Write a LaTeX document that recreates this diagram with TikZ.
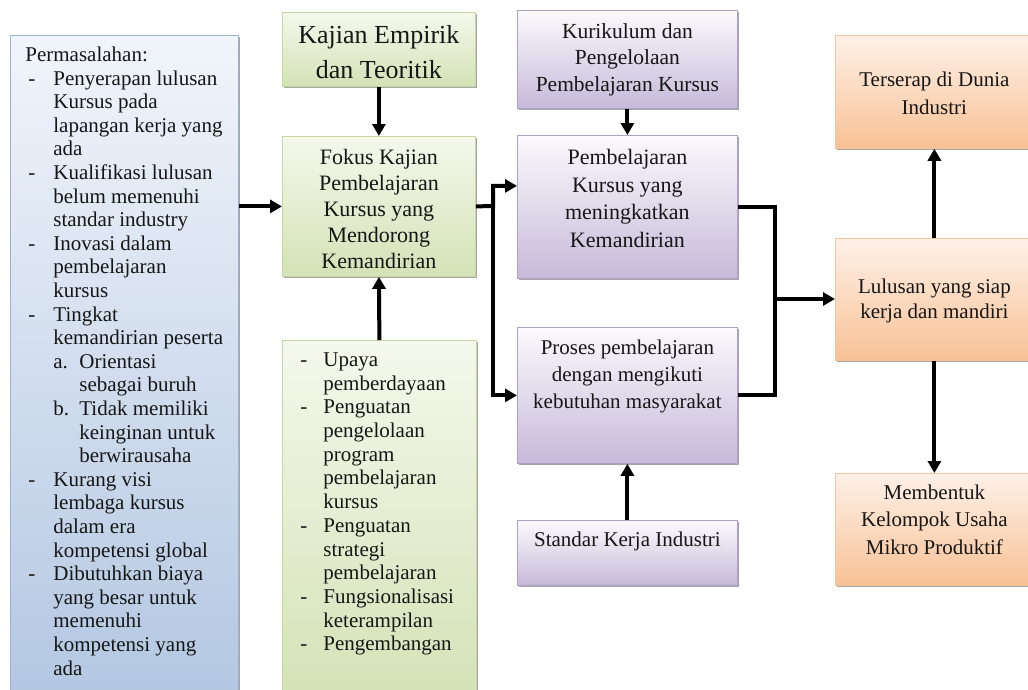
\documentclass[tikz,border=0pt]{standalone}
\usepackage{fontspec}
\setmainfont{Liberation Serif}
\usetikzlibrary{arrows.meta,shadows}
\definecolor{bluetop}{HTML}{F1F5FB}
\definecolor{bluebot}{HTML}{B3C7E2}
\definecolor{bluebd}{HTML}{9AB3D5}
\definecolor{greentop}{HTML}{F5F8EC}
\definecolor{greenbot}{HTML}{D4E2B6}
\definecolor{greenbd}{HTML}{C6D7A4}
\definecolor{purtop}{HTML}{FBFAFD}
\definecolor{purbot}{HTML}{C6BAD9}
\definecolor{purbd}{HTML}{B09FC6}
\definecolor{ortop}{HTML}{FEF1E8}
\definecolor{orbot}{HTML}{F8C195}
\definecolor{orbd}{HTML}{F3C49C}
\definecolor{txt}{HTML}{161616}
\newcommand\btxt[7]{\parbox[c][#2pt][t]{#1pt}{#6\fontsize{#3pt}{#4pt}\selectfont\vspace*{\dimexpr#5pt-\baselineskip*7/10\relax}\strut#7\par}}
\newcommand\dl[1]{\makebox[#1pt][l]{-}}
\tikzset{
  boxbase/.style={draw, inner sep=0pt, line width=0.8pt, anchor=north west, text=txt,
    drop shadow={shadow xshift=1.3pt, shadow yshift=-1.6pt, opacity=0.35, fill=black}},
  bluebx/.style={boxbase, draw=bluebd, top color=bluetop, bottom color=bluebot},
  greenbx/.style={boxbase, draw=greenbd, top color=greentop, bottom color=greenbot},
  purplebx/.style={boxbase, draw=purbd, top color=purtop, bottom color=purbot},
  orangebx/.style={boxbase, draw=orbd, top color=ortop, bottom color=orbot},
  conn/.style={line width=4pt, draw=black},
  arr/.style={conn, -{Triangle[length=12pt,width=13pt]}}
}
\begin{document}
\begin{tikzpicture}[x=1pt,y=-1pt]
\path[use as bounding box, clip] (0,0) rectangle (1028,689);
\fill[white] (0,0) rectangle (1028,689);

\node[bluebx] (prob) at (10,35) {\btxt{228}{665}{21}{23.6}{26}{\raggedright}{%
\hspace*{15pt}Permasalahan:\\
\hspace*{18pt}\dl{25}Penyerapan lulusan\\
\hspace*{43pt}Kursus pada\\
\hspace*{43pt}lapangan kerja yang\\
\hspace*{43pt}ada\\
\hspace*{18pt}\dl{25}Kualifikasi lulusan\\
\hspace*{43pt}belum memenuhi\\
\hspace*{43pt}standar industry\\
\hspace*{18pt}\dl{25}Inovasi dalam\\
\hspace*{43pt}pembelajaran\\
\hspace*{43pt}kursus\\
\hspace*{18pt}\dl{25}Tingkat\\
\hspace*{43pt}kemandirian peserta\\
\hspace*{43pt}\makebox[26pt][l]{a.}Orientasi\\
\hspace*{69pt}sebagai buruh\\
\hspace*{43pt}\makebox[26pt][l]{b.}Tidak memiliki\\
\hspace*{69pt}keinginan untuk\\
\hspace*{69pt}berwirausaha\\
\hspace*{18pt}\dl{25}Kurang visi\\
\hspace*{43pt}lembaga kursus\\
\hspace*{43pt}dalam era\\
\hspace*{43pt}kompetensi global\\
\hspace*{18pt}\dl{25}Dibutuhkan biaya\\
\hspace*{43pt}yang besar untuk\\
\hspace*{43pt}memenuhi\\
\hspace*{43pt}kompetensi yang\\
\hspace*{43pt}ada}};

\node[greenbx] (kajian) at (282,12) {\btxt{193}{74}{26}{35}{31}{\centering}{Kajian Empirik\\dan Teoritik}};
\node[greenbx] (fokus) at (282,136) {\btxt{193}{140}{22}{26}{28}{\centering}{Fokus Kajian\\Pembelajaran\\Kursus yang\\Mendorong\\Kemandirian}};
\node[greenbx] (upaya) at (282,340) {\btxt{194}{360}{21}{23.7}{26}{\raggedright}{%
\hspace*{18pt}\dl{23}Upaya\\
\hspace*{41pt}pemberdayaan\\
\hspace*{18pt}\dl{23}Penguatan\\
\hspace*{41pt}pengelolaan\\
\hspace*{41pt}program\\
\hspace*{41pt}pembelajaran\\
\hspace*{41pt}kursus\\
\hspace*{18pt}\dl{23}Penguatan\\
\hspace*{41pt}strategi\\
\hspace*{41pt}pembelajaran\\
\hspace*{18pt}\dl{23}Fungsionalisasi\\
\hspace*{41pt}keterampilan\\
\hspace*{18pt}\dl{23}Pengembangan}};

\node[purplebx] (kuri) at (517,10) {\btxt{220}{98}{21.5}{26.5}{28}{\centering}{Kurikulum dan\\Pengelolaan\\Pembelajaran Kursus}};
\node[purplebx] (pemb) at (517,135) {\btxt{220}{143}{22}{27.7}{29}{\centering}{Pembelajaran\\Kursus yang\\meningkatkan\\Kemandirian}};
\node[purplebx] (proses) at (517,327) {\btxt{220}{136}{21}{27}{27}{\centering}{Proses pembelajaran\\dengan mengikuti\\kebutuhan masyarakat}};
\node[purplebx] (standar) at (517,520) {\btxt{220}{65}{21}{25}{26}{\centering}{Standar Kerja Industri}};

\node[orangebx] (terserap) at (835,35) {\btxt{198}{113}{21}{28}{51}{\centering}{Terserap di Dunia\\Industri}};
\node[orangebx] (lulus) at (835,238) {\btxt{198}{122}{21}{25}{55}{\centering}{Lulusan yang siap\\kerja dan mandiri}};
\node[orangebx] (bentuk) at (835,473) {\btxt{198}{112}{21}{27.5}{26}{\centering}{Membentuk\\Kelompok Usaha\\Mikro Produktif}};

% connectors
\draw[arr] (prob.east |- fokus.west) -- (fokus.west);
\draw[arr] (kajian.south) -- (fokus.north);
\draw[arr] (upaya.north) -- (fokus.south);
\coordinate (j1) at (493,206);
\coordinate (pin) at ([yshift=21pt]pemb.west);
\draw[arr] (fokus.east) -- (j1) |- (pin);
\draw[arr] (j1) |- (proses.west);
\draw[arr] (kuri.south) -- (pemb.north);
\draw[arr] (standar.north) -- (proses.south);
\coordinate (j2) at (775,299);
\draw[conn] (pemb.east) -| (j2);
\draw[conn] (proses.east) -| (j2);
\draw[arr] (j2) -- (j2 -| lulus.west);
\draw[arr] (lulus.north) -- (terserap.south);
\draw[arr] (lulus.south) -- (bentuk.north);
\end{tikzpicture}
\end{document}
